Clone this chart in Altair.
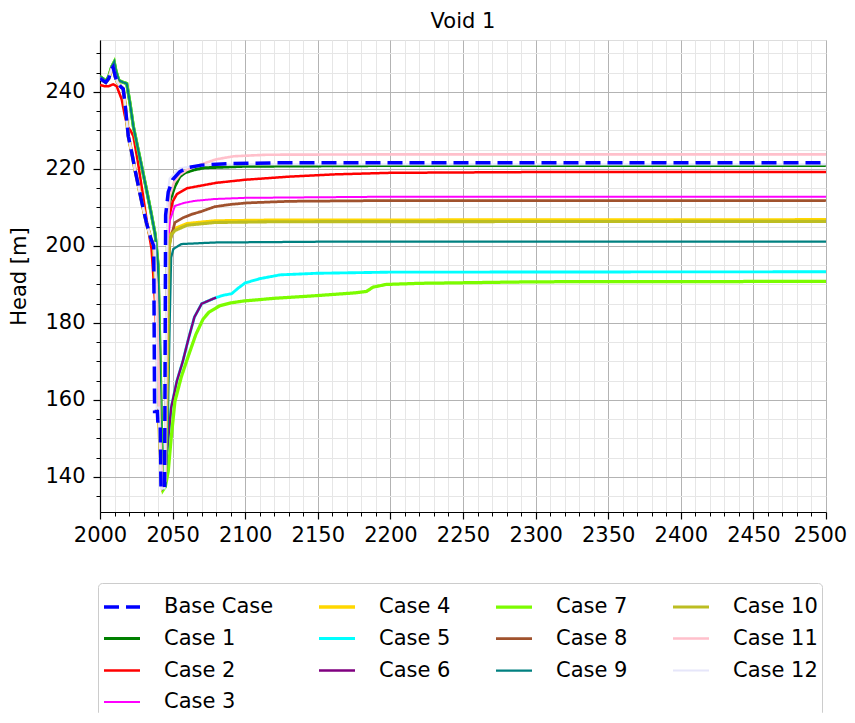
import altair as alt
import pandas as pd

# ---------------- data ----------------
SERIES = ["Base Case", "Case 1", "Case 2", "Case 3", "Case 4", "Case 5", "Case 6",
          "Case 7", "Case 8", "Case 9", "Case 10", "Case 11", "Case 12"]
COLORS = ["#0000ff", "#008000", "#ff0000", "#ff00ff", "#ffd700", "#00ffff", "#800080",
          "#7cfc00", "#a0522d", "#008080", "#bcbd22", "#ffc0cb", "#e6e6fa"]

# shared early histories
PRE_A_YEARS = [2000, 2002, 2004, 2006, 2008, 2009, 2010.5, 2012, 2014, 2016, 2017.5,
               2019.5, 2022, 2024, 2026.5, 2029, 2032, 2035, 2037]
PRE_A_VALUES = [243.5, 243.0, 242.5, 243.5, 246.0, 246.5, 244.0, 242.5, 241.5, 240.8, 236.0,
                228.5, 224.0, 220.0, 215.5, 211.0, 206.0, 202.0, 200.0]
PRE_B_YEARS = [2000, 2002, 2004, 2006, 2008, 2009.8, 2011, 2013, 2016, 2018.4, 2020.7,
               2023, 2026, 2028.7, 2032, 2035, 2038, 2040]
PRE_B_VALUES = [244.0, 243.5, 242.8, 244.0, 246.5, 247.8, 245.5, 243.0, 242.5, 242.2, 237.0,
                231.0, 225.5, 220.7, 214.7, 209.0, 203.0, 195.0]
PRE_R_YEARS = [2000, 2003, 2006, 2009, 2011.5, 2013, 2015, 2017, 2019, 2021, 2023, 2026,
               2029, 2032, 2035.5]
PRE_R_VALUES = [241.8, 241.5, 241.5, 242.0, 241.5, 240.0, 238.0, 234.0, 231.0, 230.0, 228.5,
                222.0, 214.7, 207.0, 199.2]

BASE_YEARS = [2037.6, 2039.5, 2040, 2041.5, 2042, 2044.5, 2045.2, 2047, 2050, 2055, 2060,
              2070, 2090, 2120, 2200, 2500]
BASE_VALUES = [157, 157, 153, 153, 137, 137, 208, 214, 217.2, 219.3, 220.3, 221.0, 221.4,
               221.6, 221.6, 221.6]
C1_YEARS = [2041.5, 2043, 2044.5, 2045.5, 2046.5, 2048, 2051.6, 2055, 2058.5, 2065, 2072,
            2100, 2200, 2500]
C1_VALUES = [170, 140, 137, 160, 205, 211.5, 215.5, 218.0, 219.0, 219.8, 220.3, 220.7,
             220.9, 220.9]
C2_YEARS = [2038, 2041, 2043, 2045, 2046.5, 2048, 2050, 2053, 2060, 2080, 2100, 2130, 2162,
            2200, 2300, 2500]
C2_VALUES = [185, 150, 137.5, 140, 200, 208, 211.5, 213.5, 215.0, 216.4, 217.2, 218.0, 218.6,
             219.0, 219.2, 219.2]
C3_YEARS = [2039, 2041, 2043, 2045, 2046.5, 2048, 2051.6, 2058, 2065, 2079, 2100, 2200, 2500]
C3_VALUES = [185, 150, 137.5, 139, 195, 206.5, 210.4, 211.2, 211.7, 212.2, 212.5, 212.8, 212.8]
C4_YEARS = [2039, 2041, 2043, 2045, 2046.6, 2047.5, 2049, 2051.6, 2060, 2079, 2120, 2500]
C4_VALUES = [185, 150, 137.5, 139, 168, 200, 203.2, 204.5, 205.8, 206.5, 206.7, 206.8]
C5_YEARS = [2042, 2043.5, 2045, 2046, 2049, 2053, 2057, 2061, 2065, 2070, 2078, 2080, 2085,
            2090.7, 2095, 2100, 2110, 2124, 2149, 2200, 2500]
C5_VALUES = [150, 137, 137.5, 146, 158, 165, 170, 176, 181.5, 185.0, 186.3, 186.6, 187.2,
             187.6, 189.0, 190.4, 191.5, 192.5, 192.9, 193.2, 193.3]
C6_YEARS = [2042, 2043.5, 2045, 2046, 2049, 2053, 2057, 2061, 2065, 2070, 2078, 2080]
C6_VALUES = [150, 137, 137.5, 146, 158, 165, 170, 176, 181.5, 185.0, 186.3, 186.6]
C7_YEARS = [2042, 2043.6, 2045, 2047, 2049, 2051.6, 2056, 2061, 2066, 2071, 2075, 2082.6,
            2090, 2098.7, 2120, 2149, 2175, 2183.6, 2188, 2197, 2220, 2241, 2300, 2500]
C7_VALUES = [150, 136.7, 137.5, 141.5, 150, 159.6, 166, 171.6, 177, 181, 182.8, 184.5,
             185.2, 185.7, 186.4, 187.1, 187.8, 188.2, 189.3, 190.0, 190.3, 190.4, 190.7, 190.8]
C8_YEARS = [2039, 2041, 2043, 2045, 2046.5, 2048, 2051.6, 2057, 2063, 2070, 2079, 2090, 2102,
            2130, 2200, 2500]
C8_VALUES = [185, 150, 137.5, 139, 185, 201, 206.1, 207.3, 208.2, 209.0, 210.2, 210.8, 211.2,
             211.6, 211.8, 211.8]
C9_YEARS = [2042, 2043.5, 2045, 2046.5, 2048, 2049, 2050.5, 2056, 2079, 2150, 2500]
C9_VALUES = [150, 137, 137.5, 150, 180, 197, 199.2, 200.5, 200.9, 201.1, 201.1]
C10_YEARS = [2039, 2041, 2043, 2045, 2046.6, 2047.5, 2049, 2051.6, 2060, 2079, 2120, 2500]
C10_VALUES = [185, 150, 137.5, 139, 170, 199.5, 202.8, 204.0, 205.4, 206.1, 206.3, 206.4]
C11_YEARS = [2039, 2041, 2043, 2045, 2046.5, 2048, 2051, 2055, 2060, 2069, 2080, 2092, 2115,
             2200, 2500]
C11_VALUES = [190, 155, 137.5, 139, 205, 213, 216.5, 218.5, 219.8, 221.1, 222.5, 223.3,
              223.7, 223.8, 223.8]
C12_YEARS = [2038, 2039, 2040.5, 2041, 2042, 2044.5, 2045.5, 2046.5, 2048, 2055, 2070, 2100,
             2500]
C12_VALUES = [201, 158, 158, 150, 137, 137, 180, 214, 217.5, 220.2, 221.0, 221.2, 221.2]

X_MAJOR = [2000, 2050, 2100, 2150, 2200, 2250, 2300, 2350, 2400, 2450, 2500]
Y_MAJOR = [140, 160, 180, 200, 220, 240]

# legend shown column-major in 4 columns -> row-major domain order
LEGEND_ORDER = ["Base Case", "Case 4", "Case 7", "Case 10",
                "Case 1", "Case 5", "Case 8", "Case 11",
                "Case 2", "Case 6", "Case 9", "Case 12",
                "Case 3"]

# ---------------- build table ----------------
pieces = {
    "Case 1": (PRE_B_YEARS + C1_YEARS, PRE_B_VALUES + C1_VALUES),
    "Case 2": (PRE_R_YEARS + C2_YEARS, PRE_R_VALUES + C2_VALUES),
    "Case 3": (PRE_A_YEARS + C3_YEARS, PRE_A_VALUES + C3_VALUES),
    "Case 4": (PRE_A_YEARS + C4_YEARS, PRE_A_VALUES + C4_VALUES),
    "Case 5": (PRE_B_YEARS + C5_YEARS, PRE_B_VALUES + C5_VALUES),
    "Case 6": (PRE_B_YEARS + C6_YEARS, PRE_B_VALUES + C6_VALUES),
    "Case 7": (PRE_B_YEARS + C7_YEARS, PRE_B_VALUES + C7_VALUES),
    "Case 8": (PRE_A_YEARS + C8_YEARS, PRE_A_VALUES + C8_VALUES),
    "Case 9": (PRE_B_YEARS + C9_YEARS, PRE_B_VALUES + C9_VALUES),
    "Case 10": (PRE_A_YEARS + C10_YEARS, PRE_A_VALUES + C10_VALUES),
    "Case 11": (PRE_A_YEARS + C11_YEARS, PRE_A_VALUES + C11_VALUES),
    "Case 12": (PRE_A_YEARS + C12_YEARS, PRE_A_VALUES + C12_VALUES),
    "Base Case": (PRE_A_YEARS + BASE_YEARS, PRE_A_VALUES + BASE_VALUES),
}
rows = []
for name, (yrs, vals) in pieces.items():
    for yr, v in zip(yrs, vals):
        rows.append({"series": name, "year": yr, "head": v})
df = pd.DataFrame(rows)

color_of = dict(zip(SERIES, COLORS))
legend_colors = [color_of[s] for s in LEGEND_ORDER]
legend_dash = [[15, 7] if s == "Base Case" else [1, 0] for s in LEGEND_ORDER]
legend_width = [3.5 if s == "Base Case" else 2 for s in LEGEND_ORDER]

FONT = "DejaVu Sans"
FS = 21
x_dom = [2000, 2500]
y_dom = [130.9, 253.5]
x_minor = [v for v in range(2000, 2501, 10) if v % 50]
y_minor = [v for v in range(135, 254, 5) if v % 20]

minor = alt.Chart(df).mark_point(opacity=0).encode(
    x=alt.X("year:Q", scale=alt.Scale(domain=x_dom, nice=False, zero=False),
            axis=alt.Axis(values=x_minor, orient="bottom", labels=False, title=None,
                          tickSize=4, tickColor="black", domain=False,
                          grid=True, gridColor="#e6e6e6", gridWidth=1)),
    y=alt.Y("head:Q", scale=alt.Scale(domain=y_dom, nice=False, zero=False),
            axis=alt.Axis(values=y_minor, orient="left", labels=False, title=None,
                          tickSize=4, tickColor="black", domain=False,
                          grid=True, gridColor="#e6e6e6", gridWidth=1)),
)

lines = alt.Chart(df).mark_line(clip=True).encode(
    x=alt.X("year:Q", scale=alt.Scale(domain=x_dom, nice=False, zero=False),
            axis=alt.Axis(values=X_MAJOR, orient="bottom", title=None, format="d",
                          tickSize=7, tickColor="black", tickWidth=1.2,
                          domainColor="black", domainWidth=1.2,
                          labelFontSize=FS, labelFont=FONT, labelColor="black",
                          labelPadding=5, labelFlush=False,
                          labelOffset={"condition": {"test": "datum.value == 2500", "value": -6},
                                       "value": 0},
                          grid=True, gridColor="#b3b3b3", gridWidth=1)),
    y=alt.Y("head:Q", scale=alt.Scale(domain=y_dom, nice=False, zero=False),
            axis=alt.Axis(values=Y_MAJOR, orient="left", title="Head [m]", format="d",
                          tickSize=7, tickColor="black", tickWidth=1.2,
                          domainColor="black", domainWidth=1.2,
                          labelFontSize=FS, labelFont=FONT, labelColor="black",
                          labelPadding=8,
                          titleFontSize=FS, titleFont=FONT, titleFontWeight="normal",
                          titleColor="black", titlePadding=15,
                          grid=True, gridColor="#b3b3b3", gridWidth=1)),
    color=alt.Color("series:N", scale=alt.Scale(domain=LEGEND_ORDER, range=legend_colors),
                    legend=alt.Legend(title=None, orient="none", legendX=-2, legendY=543,
                                      direction="horizontal",
                                      columns=4, columnPadding=38, rowPadding=2,
                                      symbolType="stroke", symbolSize=1296,
                                      symbolStrokeWidth=2.5, labelOffset=22,
                                      labelFontSize=FS, labelFont=FONT, labelColor="black",
                                      padding=4, strokeColor="#cccccc", cornerRadius=4,
                                      fillColor="white", labelLimit=300)),
    strokeDash=alt.StrokeDash("series:N",
                              scale=alt.Scale(domain=LEGEND_ORDER, range=legend_dash),
                              legend=alt.Legend(title=None)),
    strokeWidth=alt.StrokeWidth("series:N",
                                scale=alt.Scale(domain=LEGEND_ORDER, range=legend_width),
                                legend=None),
)

chart = alt.layer(minor, lines).resolve_axis(x="independent", y="independent").properties(
    width=726, height=472,
    title=alt.TitleParams("Void 1", fontSize=FS, font=FONT, fontWeight="normal",
                          color="black", anchor="middle", frame="group", offset=8),
    autosize=alt.AutoSizeParams(type="none"),
    padding={"left": 92, "top": 32, "right": 21, "bottom": 201},
).configure_view(stroke="black", strokeWidth=1.2).configure(background="white")

chart.save("out.html", embed_options={"renderer": "svg", "actions": False})
